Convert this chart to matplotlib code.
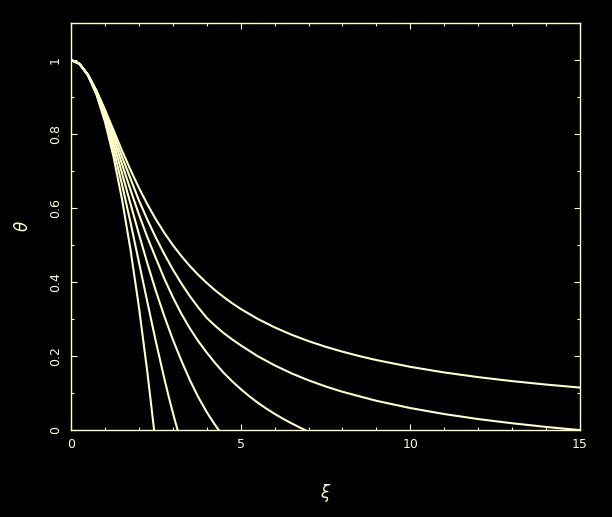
import matplotlib
matplotlib.use("Agg")
import matplotlib.pyplot as plt
from matplotlib.ticker import MultipleLocator

# values, one curve per polytropic index
xi_n0 = [0, 0.25, 0.5, 0.75, 1.0, 1.25, 1.5, 1.75, 2.0, 2.25, 2.449]
theta_n0 = [1.0, 0.9896, 0.9583, 0.9063, 0.8333, 0.7396, 0.625, 0.4896, 0.3333, 0.1563, 0.0]

xi_n1 = [0, 0.25, 0.5, 0.75, 1.0, 1.25, 1.5, 1.75, 2.0, 2.25, 2.5, 2.75, 2.9, 3.05, 3.1416]
theta_n1 = [1.0, 0.9896, 0.9589, 0.9089, 0.8415, 0.7592, 0.6650, 0.5623, 0.4546, 0.3458,
            0.2394, 0.1388, 0.0825, 0.0300, 0.0]

xi_n2 = [0, 0.25, 0.5, 0.75, 1.0, 1.25, 1.5, 1.75, 2.0, 2.25, 2.5, 2.75, 3.0, 3.25,
         3.5, 3.75, 4.0, 4.1, 4.2, 4.3, 4.353]
theta_n2 = [1.0, 0.9896, 0.9594, 0.9113, 0.8486, 0.7753, 0.6954, 0.6125, 0.530, 0.4505,
            0.376, 0.3075, 0.2448, 0.188, 0.1355, 0.0890, 0.0485, 0.0341, 0.0200,
            0.0067, 0.0]

xi_n3 = [0, 0.25, 0.5, 0.75, 1.0, 1.25, 1.5, 1.75, 2.0, 2.25, 2.5, 2.75, 3.0, 3.25,
         3.5, 3.75, 4.0, 4.25, 4.5, 4.75, 5.0, 5.25, 5.5, 5.75, 6.0, 6.25, 6.5,
         6.75, 6.897]
theta_n3 = [1.0, 0.9896, 0.9598, 0.9135, 0.8551, 0.7890, 0.7195, 0.650, 0.5829, 0.521,
            0.4645, 0.409, 0.3592, 0.3145, 0.2751, 0.2400, 0.2093, 0.1806, 0.1545,
            0.1316, 0.1108, 0.0915, 0.0740, 0.0583, 0.0437, 0.0303, 0.0179,
            0.0064, 0.0]

xi_n4 = [0, 0.25, 0.5, 0.75, 1.0, 1.25, 1.5, 1.75, 2.0, 2.25, 2.5, 2.75, 3.0, 3.25,
         3.5, 3.75, 4.0, 4.25, 4.5, 4.75, 5.0, 5.5, 6.0, 6.5, 7.0, 7.5, 8.0, 9.0,
         10.0, 11.0, 12.0, 13.0, 14.0, 14.5, 14.97]
theta_n4 = [1.0, 0.9897, 0.9603, 0.9157, 0.8608, 0.8006, 0.739, 0.680, 0.621, 0.5685,
            0.520, 0.4755, 0.434, 0.3965, 0.362, 0.3313, 0.303, 0.2815, 0.262,
            0.2448, 0.229, 0.1996, 0.1748, 0.1530, 0.1343, 0.1178, 0.1033, 0.0789,
            0.0593, 0.0431, 0.0296, 0.0182, 0.0083, 0.0039, 0.0]

xi_n5 = [0, 0.25, 0.5, 0.75, 1.0, 1.25, 1.5, 1.75, 2.0, 2.25, 2.5, 2.75, 3.0, 3.25,
         3.5, 3.75, 4.0, 4.25, 4.5, 4.75, 5.0, 5.5, 6.0, 6.5, 7.0, 7.5, 8.0, 8.5,
         9.0, 10.0, 11.0, 12.0, 13.0, 14.0, 15.0]
theta_n5 = [1.0, 0.9897, 0.9608, 0.9177, 0.8660, 0.8109, 0.7559, 0.7035, 0.6547, 0.6100,
            0.5694, 0.5329, 0.5, 0.4703, 0.4435, 0.4193, 0.3974, 0.3774, 0.3592,
            0.3426, 0.3273, 0.3004, 0.2774, 0.2575, 0.2402, 0.2250, 0.2117, 0.1997,
            0.1890, 0.1707, 0.1555, 0.1429, 0.1321, 0.1228, 0.1147]

curves = [(xi_n0, theta_n0), (xi_n1, theta_n1), (xi_n2, theta_n2),
          (xi_n3, theta_n3), (xi_n4, theta_n4), (xi_n5, theta_n5)]

fg = '#ffffcc'

fig = plt.figure(figsize=(6.12, 5.17), dpi=100, facecolor='black')
ax = fig.add_axes([71 / 612, 87 / 517, 509 / 612, 407 / 517], facecolor='black')

for xs, ys in curves:
    ax.plot(xs, ys, color=fg, lw=1.5, solid_joinstyle='round')

ax.set_xlim(0, 15)
ax.set_ylim(0, 1.1)
ax.xaxis.set_minor_locator(MultipleLocator(1))
ax.yaxis.set_minor_locator(MultipleLocator(0.1))
ax.set_xticks([0, 5, 10, 15])
ax.set_xticklabels(['0', '5', '10', '15'])
ax.set_yticks([0, 0.2, 0.4, 0.6, 0.8, 1.0])
ax.set_yticklabels(['0', '0.2', '0.4', '0.6', '0.8', '1'], rotation=90, va='center')

for s in ax.spines.values():
    s.set_color(fg)
    s.set_linewidth(1.0)
ax.tick_params(which='both', direction='in', top=True, right=True, colors=fg,
               labelsize=9, width=0.8)
ax.tick_params(which='major', length=4.5)
ax.tick_params(which='minor', length=2.5)
ax.tick_params(axis='x', pad=6)
ax.tick_params(axis='y', pad=6.5)

ax.set_xlabel(r'$\xi$', color=fg, fontsize=12, labelpad=22)
ax.set_ylabel(r'$\theta$', color=fg, fontsize=12, labelpad=12)

fig.savefig('out.png', dpi=100, facecolor='black')
